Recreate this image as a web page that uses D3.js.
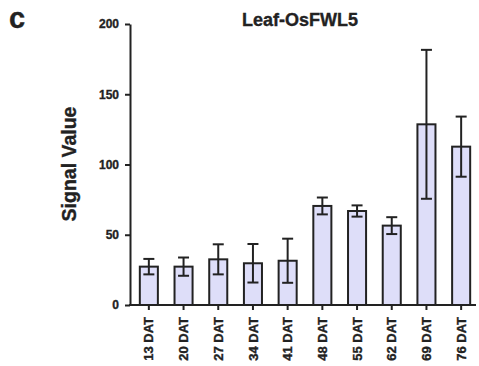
<!DOCTYPE html>
<html><head><meta charset="utf-8">
<script src="https://cdn.jsdelivr.net/npm/d3@7"></script>
<style>body{margin:0;background:#fff}svg{display:block}text{font-family:"Liberation Sans",Arial,sans-serif;font-weight:bold;fill:#222;stroke:#222;stroke-width:0.35px}</style>
</head><body>
<script>
const categories = ["13 DAT","20 DAT","27 DAT","34 DAT","41 DAT","48 DAT","55 DAT","62 DAT","69 DAT","76 DAT"];
const values = [27.3, 27.3, 32.5, 29.7, 31.5, 70.5, 66.9, 56.5, 128.6, 112.7];
const errors = [5.5, 6.5, 10.7, 13.7, 15.7, 6.0, 4.0, 6.0, 53.0, 21.4];
const yTicks = [0, 50, 100, 150, 200];

const W = 479, H = 366;
const svg = d3.select("body").append("svg").attr("width", W).attr("height", H);

const x = d3.scaleBand().domain(categories).range([131.5, 478.5]).paddingInner(0.48).paddingOuter(0.24);
const y = d3.scaleLinear().domain([0, 200]).range([305, 24]);

// bars
svg.selectAll("rect.bar").data(values).join("rect")
  .attr("x", (d, i) => x(categories[i]))
  .attr("y", d => y(d))
  .attr("width", x.bandwidth())
  .attr("height", d => y(0) - y(d))
  .attr("fill", "#dedef9").attr("stroke", "#222").attr("stroke-width", 2);

// error bars
const eb = svg.append("g").attr("stroke", "#222").attr("stroke-width", 2);
values.forEach((v, i) => {
  const cx = x(categories[i]) + x.bandwidth() / 2;
  eb.append("line").attr("x1", cx).attr("x2", cx).attr("y1", y(v + errors[i])).attr("y2", y(v - errors[i]));
  eb.append("line").attr("x1", cx - 5.5).attr("x2", cx + 5.5).attr("y1", y(v + errors[i])).attr("y2", y(v + errors[i]));
  eb.append("line").attr("x1", cx - 5.5).attr("x2", cx + 5.5).attr("y1", y(v - errors[i])).attr("y2", y(v - errors[i]));
});

// y axis
const ya = svg.append("g").attr("transform", "translate(130,0)")
  .call(d3.axisLeft(y).tickValues(yTicks).tickSize(5).tickSizeOuter(0).tickPadding(6));
ya.select(".domain").attr("stroke", "#222").attr("stroke-width", 2);
ya.selectAll(".tick line").attr("stroke", "#222").attr("stroke-width", 2);
ya.selectAll(".tick text").style("font-size", "12px").style("font-weight", "bold").style("font-family", "Liberation Sans, Arial, sans-serif").attr("fill", "#222");

// x axis
const xa = svg.append("g").attr("transform", "translate(0,305)")
  .call(d3.axisBottom(x).tickSize(5).tickSizeOuter(0).tickPadding(6));
xa.select(".domain").attr("d", "M129,0H476").attr("stroke", "#222").attr("stroke-width", 2);
xa.selectAll(".tick line").attr("stroke", "#222").attr("stroke-width", 2);
xa.selectAll(".tick text")
  .style("font-size", "13px").style("font-weight", "bold").style("font-family", "Liberation Sans, Arial, sans-serif").attr("fill", "#222")
  .attr("transform", "rotate(-90)")
  .attr("text-anchor", "end")
  .attr("x", -12).attr("y", 0).attr("dy", "0.35em");

// title
svg.append("text").attr("x", 300).attr("y", 26).attr("text-anchor", "middle").style("font-size", "18px").text("Leaf-OsFWL5");
// y label
svg.append("text").attr("transform", "translate(76,164) rotate(-90)").attr("text-anchor", "middle").style("font-size", "19.5px").text("Signal Value");
// panel letter
svg.append("text").attr("x", 9).attr("y", 28).style("font-size", "29px").text("c");
</script>
</body></html>
